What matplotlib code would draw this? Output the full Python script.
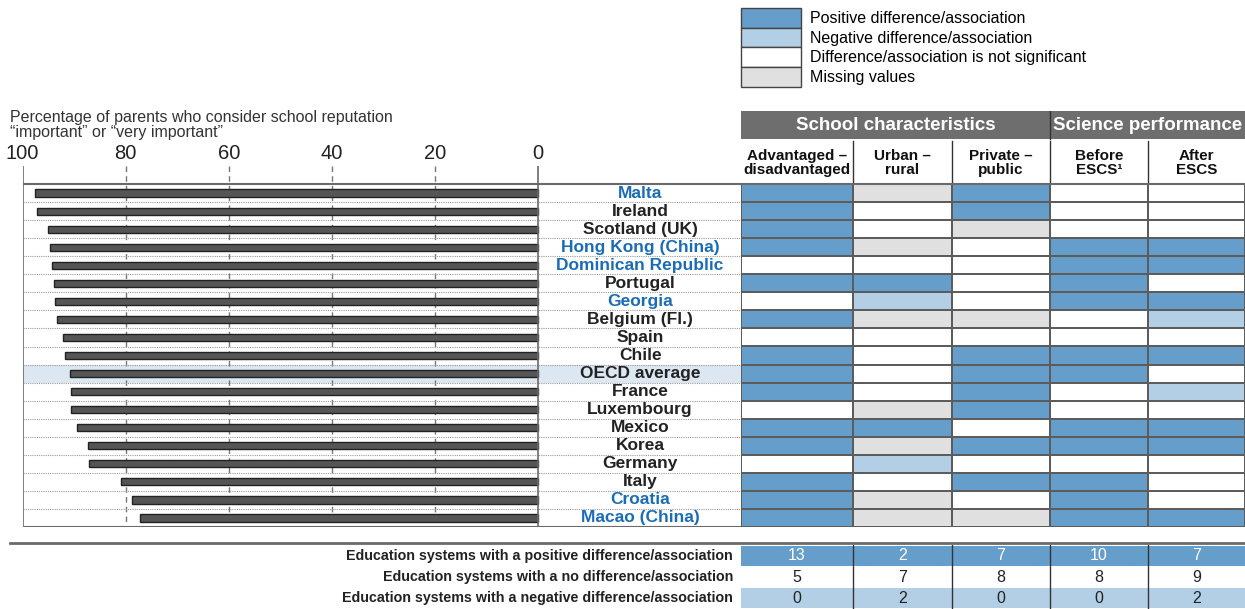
import matplotlib.pyplot as plt
import numpy as np
from matplotlib.colors import ListedColormap
from matplotlib.patches import Patch, Rectangle
from matplotlib.lines import Line2D

plt.rcParams['font.family'] = ['Liberation Sans', 'DejaVu Sans']

countries = ["Malta", "Ireland", "Scotland (UK)", "Hong Kong (China)", "Dominican Republic",
             "Portugal", "Georgia", "Belgium (Fl.)", "Spain", "Chile", "OECD average",
             "France", "Luxembourg", "Mexico", "Korea", "Germany", "Italy", "Croatia",
             "Macao (China)"]
pct = [97.6, 97.1, 95.0, 94.7, 94.2, 93.8, 93.6, 93.4, 92.2, 91.7, 90.8,
       90.6, 90.6, 89.5, 87.3, 87.1, 80.8, 78.7, 77.3]
partners = ["Malta", "Hong Kong (China)", "Dominican Republic", "Georgia", "Croatia", "Macao (China)"]

# P positive, N negative, W not significant, M missing
status = ["PMPWW", "PWPWW", "PWMWW", "PMWPP", "WWWPP", "PPWPW", "WNWPP", "PMMWN",
          "WWWWW", "PWPPP", "PWPPW", "PWPWN", "WMPWW", "PPWPP", "PMPPP", "WNWWW",
          "PWPPW", "PMWPW", "PMMPP"]
columns = ["Advantaged –\ndisadvantaged", "Urban –\nrural", "Private –\npublic",
           "Before\nESCS¹", "After\nESCS"]
groups = ["School characteristics", "Science performance"]

codes = {"P": 0, "N": 1, "W": 2, "M": 3}
cell_colors = ["#669ecb", "#b3cfe5", "#ffffff", "#e0e0e0"]
legend_labels = ["Positive difference/association", "Negative difference/association",
                 "Difference/association is not significant", "Missing values"]
summary_labels = ["Education systems with a positive difference/association",
                  "Education systems with a no difference/association",
                  "Education systems with a negative difference/association"]

W, H = 1245, 609
fig = plt.figure(figsize=(W / 100, H / 100), dpi=100)


def fax(x0, y0, x1, y1):
    return fig.add_axes([x0 / W, 1 - y1 / H, (x1 - x0) / W, (y1 - y0) / H])


n = len(countries)
blue_txt = "#1a6db5"
grey_line = "#6a6a6a"

# ---- bar panel (includes label area) ----
ax = fax(22.5, 166, 741, 527)
xr = -(741 - 538) / 5.155
ax.set_xlim(100, xr)
ax.set_ylim(n - 0.5, -1.5)
y = np.arange(n)
oecd = countries.index("OECD average")
ax.axhspan(oecd - 0.5, oecd + 0.5, color="#dce7f1", zorder=0, lw=0)
for v in [80, 60, 40, 20]:
    ax.plot([v, v], [-1.5, n - 0.5], ls=(0, (4, 3)), color="#777777", lw=1, zorder=1)
ax.plot([0, 0], [-1.5, n - 0.5], color=grey_line, lw=1.2, zorder=3)
ax.plot([100, 100], [-1.5, n - 0.5], color=grey_line, lw=1.2, zorder=3)
for i in range(n - 1):
    ax.plot([100, xr], [i + 0.5, i + 0.5], ls=(0, (1, 1)), color="#9a9a9a", lw=0.8, zorder=1)
ax.plot([100, xr], [-0.5, -0.5], color=grey_line, lw=1.5, zorder=3)
ax.plot([100, xr], [n - 0.5, n - 0.5], color=grey_line, lw=1.5, zorder=3)
ax.barh(y, pct, height=0.4, color="#555555", edgecolor="#222222", lw=1, zorder=2)
for i, c in enumerate(countries):
    ax.text(-19.8, i, c, ha="center", va="center", fontsize=12.5,
            fontweight="bold", color=blue_txt if c in partners else "#222222")
ax.xaxis.tick_top()
ax.set_xticks([100, 80, 60, 40, 20, 0])
ax.tick_params(axis="x", length=0, pad=2, labelsize=14.5, colors="#222222")
ax.set_yticks([])
for s in ax.spines.values():
    s.set_visible(False)

fig.text(10 / W, 1 - 110 / H,
         "Percentage of parents who consider school reputation\n“important” or “very important”",
         ha="left", va="top", fontsize=11.5, color="#333333", linespacing=1.0)

# ---- status table ----
edges = np.array([0, 112, 211, 309, 407, 504])
mat = np.array([[codes[s] for s in row] for row in status])
tx = fax(741, 184, 1245, 527)
tx.pcolormesh(edges, np.arange(-0.5, n), mat, cmap=ListedColormap(cell_colors),
              vmin=-0.5, vmax=3.5, edgecolors="#5c5c5c", linewidth=1.2)
tx.set_xlim(0, 504)
tx.set_ylim(n - 0.5, -0.5)
tx.axis("off")

# ---- headers ----
hx = fax(741, 111, 1245, 184)
hx.set_xlim(0, 504)
hx.set_ylim(73, 0)
hx.axis("off")
hx.add_patch(Rectangle((0, 0), edges[3], 28, color="#6e6e6e", lw=0))
hx.add_patch(Rectangle((edges[3] + 1, 0), edges[5] - edges[3] - 1, 28, color="#6e6e6e", lw=0))
hx.plot([edges[3], edges[3]], [0, 28], color="#333333", lw=1)
hx.text(edges[3] / 2, 14.5, groups[0], ha="center", va="center", color="white",
        fontsize=13.5, fontweight="bold")
hx.text((edges[3] + edges[5]) / 2, 14.5, groups[1], ha="center", va="center", color="white",
        fontsize=13.5, fontweight="bold")
for k in range(1, 5):
    hx.plot([edges[k], edges[k]], [30, 73], color="#333333", lw=1)
for k, c in enumerate(columns):
    hx.text((edges[k] + edges[k + 1]) / 2, 52, c, ha="center", va="center",
            fontsize=11, fontweight="bold", color="#111111", linespacing=1.0)
hx.plot([0, 504], [73, 73], color=grey_line, lw=1.5, clip_on=False)

# ---- legend ----
handles = [Patch(facecolor=c, edgecolor="#444444", lw=1) for c in cell_colors]
fig.legend(handles, legend_labels, loc="upper left", bbox_to_anchor=(741 / W, 1 - 8 / H),
           frameon=False, fontsize=11.5, handlelength=3.75, handleheight=1.52,
           labelspacing=0.0, handletextpad=0.6, borderpad=0, borderaxespad=0)

# ---- summary ----
data_rows = [r for c, r in zip(countries, status) if c != "OECD average"]
counts = [[sum(r[j] == code for r in data_rows) for j in range(5)] for code in "PWN"]
sx = fax(741, 545, 1245, 609)
sx.set_xlim(0, 504)
sx.set_ylim(3, 0)
sx.axis("off")
row_bg = ["#669ecb", "#ffffff", "#b3cfe5"]
for r in range(3):
    sx.add_patch(Rectangle((0, r + 0.03), 504, 0.94, color=row_bg[r], lw=0))
    for j in range(5):
        sx.text((edges[j] + edges[j + 1]) / 2, r + 0.5, str(counts[r][j]), ha="center",
                va="center", fontsize=11.5, color="white" if r == 0 else "#222222")
    sx.text(-8, r + 0.5, summary_labels[r], ha="right", va="center", fontsize=10.3,
            fontweight="bold", color="#222222", clip_on=False)
for k in range(1, 5):
    sx.plot([edges[k], edges[k]], [0, 3], color="#333333", lw=1)
fig.add_artist(Line2D([10 / W, 1], [1 - 543 / H, 1 - 543 / H], color="#6a6a6a", lw=2))

fig.savefig("out.png", dpi=100)
